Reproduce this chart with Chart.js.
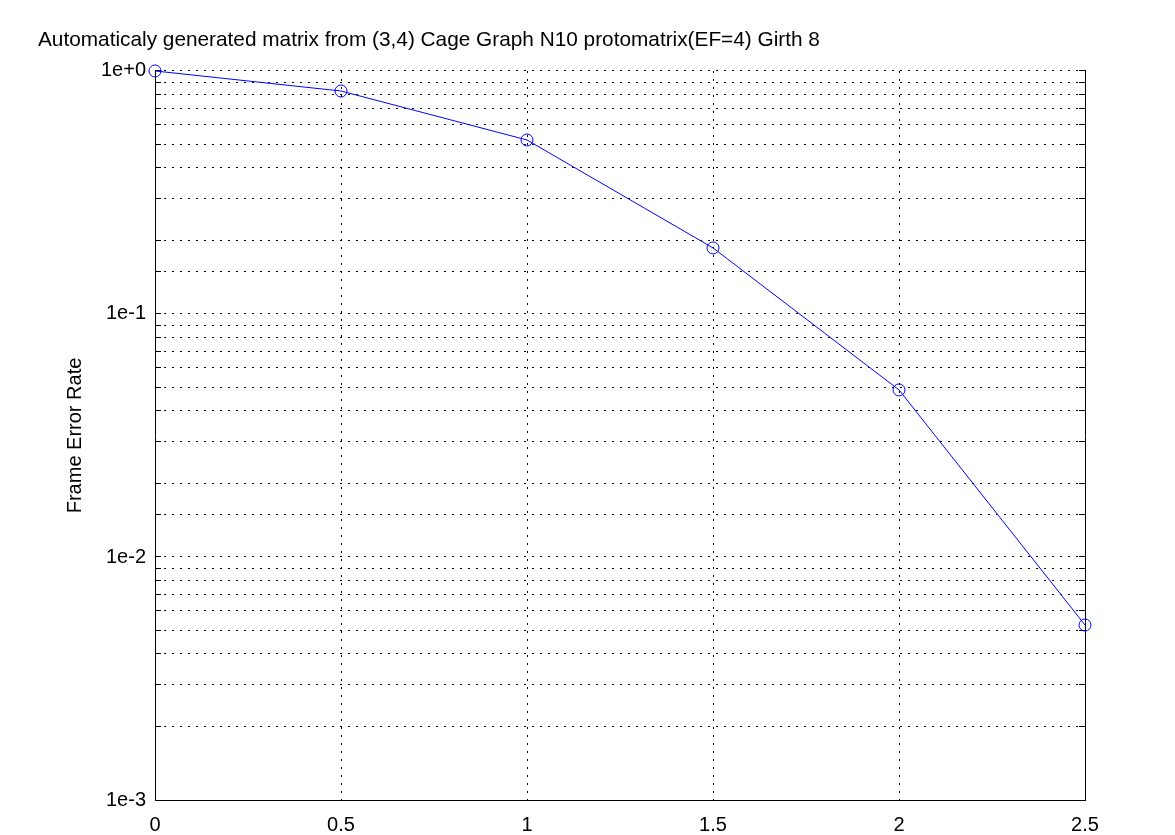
<!DOCTYPE html>
<html>
<head>
<meta charset="utf-8">
<script src="https://cdn.jsdelivr.net/npm/chart.js@4/dist/chart.umd.min.js"></script>
<style>
  body { margin: 0; background: #fff; }
  canvas { display: block; }
</style>
</head>
<body>
<canvas id="fer-chart" width="1175" height="835"></canvas>
<script>
// values
const snrPoints = [0, 0.5, 1, 1.5, 2, 2.5];
const frameErrorRate = [1.0, 0.827, 0.52, 0.187, 0.0487, 0.00525];
const xTickLabels = ['0', '0.5', '1', '1.5', '2', '2.5'];
const yDecades = [0.001, 0.01, 0.1, 1];
const yTickLabels = ['1e-3', '1e-2', '1e-1', '1e+0'];

const chartTitle = 'Automaticaly generated matrix from (3,4) Cage Graph N10 protomatrix(EF=4) Girth 8';
const yAxisTitle = 'Frame Error Rate';

const fontFamily = '"Liberation Sans", Arial, sans-serif';
const font = { family: fontFamily, size: 20 };

function decadeLabel(v) {
    const i = yDecades.findIndex(d => Math.abs(d - v) < d * 1e-6);
    return i >= 0 ? yTickLabels[i] : '';
}

const ctx = document.getElementById('fer-chart');
const chart = new Chart(ctx, {
    type: 'scatter',
    data: {
        datasets: [{
            data: snrPoints.map((x, i) => ({ x: x, y: frameErrorRate[i] })),
            showLine: true,
            borderColor: '#0000ff',
            borderWidth: 1,
            backgroundColor: 'rgba(0,0,0,0)',
            pointStyle: 'circle',
            pointRadius: 6,
            pointBorderColor: '#0000ff',
            pointBorderWidth: 1,
            pointBackgroundColor: 'rgba(0,0,0,0)',
            clip: false
        }]
    },
    options: {
        responsive: false,
        animation: false,
        layout: { padding: { left: 38, right: 90, top: 0, bottom: 0 } },
        plugins: {
            legend: { display: false },
            tooltip: { enabled: false },
            title: {
                display: true,
                text: chartTitle,
                align: 'start',
                color: '#000',
                font: { family: fontFamily, size: 20.8, weight: 'normal' },
                padding: { top: 28, bottom: 18 }
            }
        },
        scales: {
            x: {
                type: 'linear',
                min: 0,
                max: 2.5,
                afterBuildTicks: scale => {
                    scale.ticks = snrPoints.map(v => ({ value: v }));
                },
                afterFit: scale => { scale.height = 35; },
                ticks: {
                    color: '#000',
                    font: font,
                    padding: 13,
                    maxRotation: 0,
                    autoSkip: false,
                    callback: (v) => {
                        const i = snrPoints.indexOf(v);
                        return i >= 0 ? xTickLabels[i] : '';
                    }
                },
                grid: {
                    color: '#000',
                    lineWidth: 1,
                    drawTicks: false
                },
                border: { display: true, color: '#000', width: 1, dash: [2, 6] }
            },
            y: {
                type: 'logarithmic',
                min: 0.001,
                max: 1,
                afterFit: scale => { scale.width = 117; },
                ticks: {
                    color: '#000',
                    font: font,
                    padding: 15,
                    autoSkip: false,
                    callback: decadeLabel
                },
                grid: {
                    color: '#000',
                    lineWidth: 1,
                    drawTicks: true,
                    tickLength: -6,
                    tickBorderDash: []
                },
                border: { display: true, color: '#000', width: 1, dash: [2, 6] },
                title: {
                    display: true,
                    text: yAxisTitle,
                    color: '#000',
                    font: font,
                    padding: { top: 25, bottom: 0 }
                }
            },
            yRight: {
                type: 'logarithmic',
                position: 'right',
                min: 0.001,
                max: 1,
                afterFit: scale => { scale.width = 0; },
                ticks: {
                    autoSkip: false,
                    callback: () => ''
                },
                grid: {
                    color: '#000',
                    lineWidth: 1,
                    drawOnChartArea: false,
                    drawTicks: true,
                    tickLength: -6,
                    tickBorderDash: []
                },
                border: { display: true, color: '#000', width: 1 }
            }
        }
    }
});
</script>
</body>
</html>
